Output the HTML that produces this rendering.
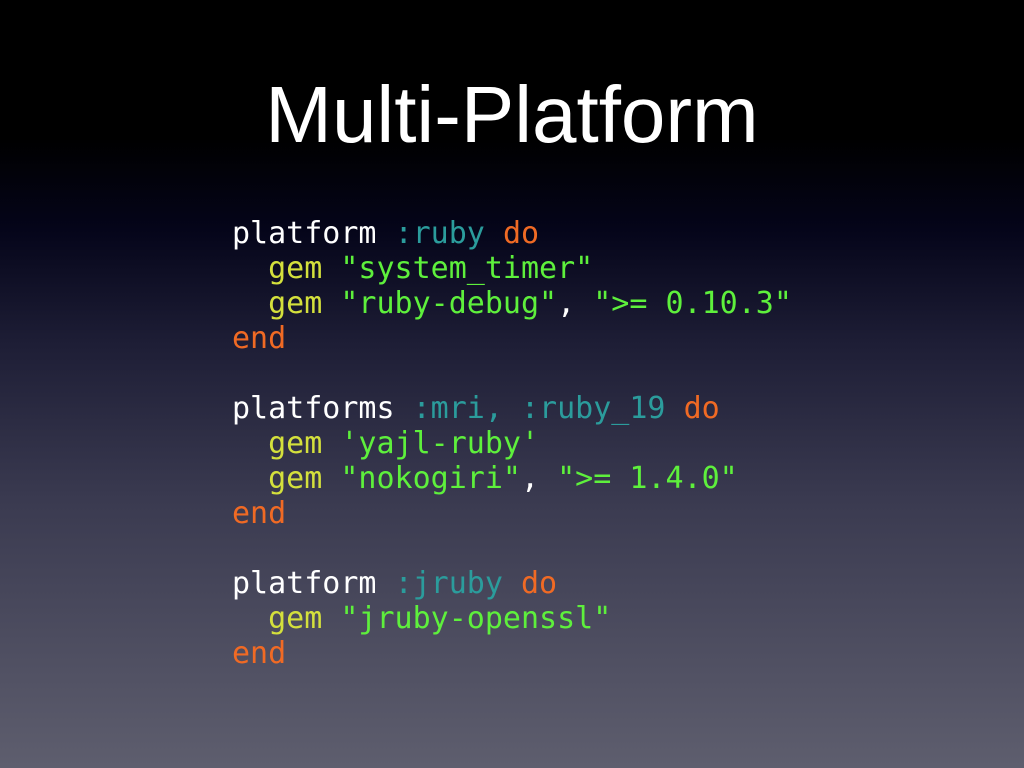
<!DOCTYPE html>
<html><head><meta charset="utf-8"><style>
html,body{margin:0;padding:0}
body{width:1024px;height:768px;overflow:hidden;position:relative;
background:linear-gradient(to bottom,#000 0%,#000 18%,#05051a 30%,#1e1e36 45%,#3a3a50 65%,#5e5e6e 100%);}
h1{position:absolute;left:0;width:1024px;top:65px;margin:0;text-align:center;
font:80px/100px "Liberation Sans",sans-serif;color:#fff;letter-spacing:0;}
pre{position:absolute;left:232px;top:216px;margin:0;font:30px/35px "DejaVu Sans Mono","Liberation Mono",monospace;color:#fff;}
.t{color:#2b9c9c}.o{color:#f06a24}.y{color:#d4e03c}.g{color:#5ef03c}
</style></head><body>
<h1>Multi-Platform</h1>
<pre>platform <span class="t">:ruby</span> <span class="o">do</span>
  <span class="y">gem</span> <span class="g">"system_timer"</span>
  <span class="y">gem</span> <span class="g">"ruby-debug"</span>, <span class="g">"&gt;= 0.10.3"</span>
<span class="o">end</span>

platforms <span class="t">:mri, :ruby_19</span> <span class="o">do</span>
  <span class="y">gem</span> <span class="g">'yajl-ruby'</span>
  <span class="y">gem</span> <span class="g">"nokogiri"</span>, <span class="g">"&gt;= 1.4.0"</span>
<span class="o">end</span>

platform <span class="t">:jruby</span> <span class="o">do</span>
  <span class="y">gem</span> <span class="g">"jruby-openssl"</span>
<span class="o">end</span></pre>
</body></html>
